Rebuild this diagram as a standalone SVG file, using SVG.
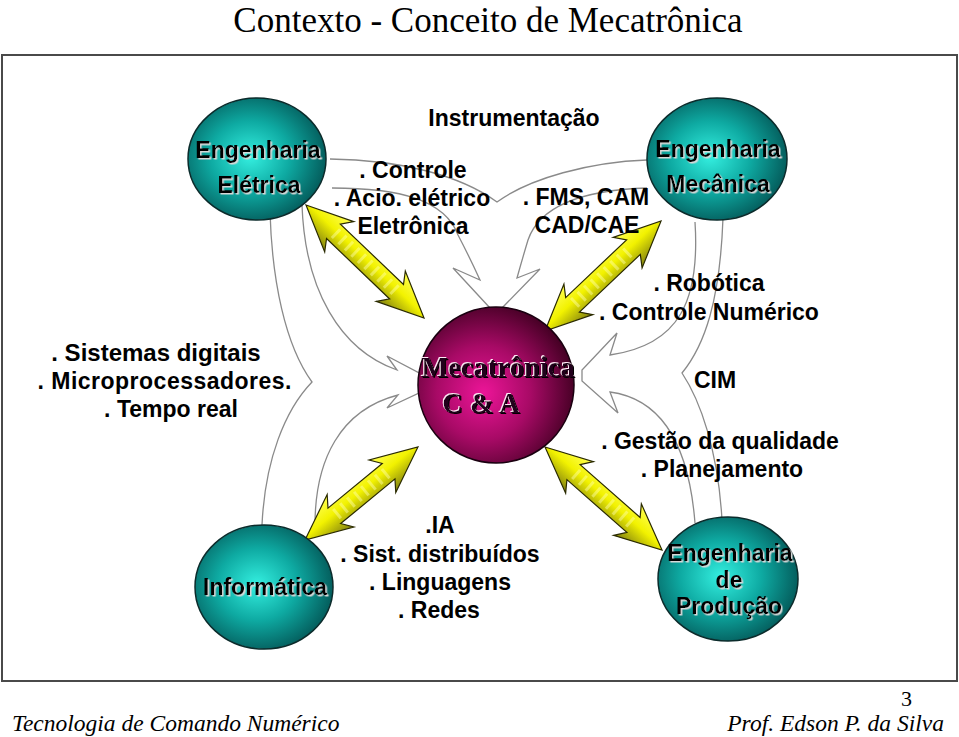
<svg xmlns="http://www.w3.org/2000/svg" width="959" height="737" viewBox="0 0 959 737">
<defs>
<style>
.lbl{font-family:"Liberation Sans",Arial,sans-serif;font-weight:bold;font-size:23px;fill:#000;text-anchor:middle}
.ntx{font-family:"Liberation Sans",Arial,sans-serif;font-weight:bold;font-size:23px;fill:#000;text-anchor:middle;filter:url(#emb)}
.mtx{font-family:"Liberation Serif","Times New Roman",serif;font-weight:bold;font-size:28.5px;fill:#22061a;text-anchor:middle;filter:url(#emb2)}
.gl{fill:none;stroke:#8a8a8a;stroke-width:1.3}
.ya{fill:url(#yel);stroke:#2a2a00;stroke-width:1.2;stroke-linejoin:miter}
.ys{fill:none;stroke:#ffffb0;stroke-width:12;stroke-dasharray:3 6;opacity:0.45}
.tc{fill:url(#teal);stroke:#0b2b2b;stroke-width:1.5}
.foot{font-family:"Liberation Serif","Times New Roman",serif;font-style:italic;font-size:23.5px;fill:#000}
</style>
<radialGradient id="teal" cx="45%" cy="48%" r="58%" fx="45%" fy="48%">
<stop offset="0" stop-color="#34efe0"/>
<stop offset="0.5" stop-color="#0eaaa2"/>
<stop offset="1" stop-color="#035656"/>
</radialGradient>
<radialGradient id="mag" cx="42%" cy="55%" r="60%" fx="42%" fy="55%">
<stop offset="0" stop-color="#ec1598"/>
<stop offset="0.5" stop-color="#a80a66"/>
<stop offset="1" stop-color="#420022"/>
</radialGradient>
<linearGradient id="yel" x1="0" y1="0" x2="0" y2="1">
<stop offset="0" stop-color="#ffff50"/>
<stop offset="0.45" stop-color="#f2f200"/>
<stop offset="1" stop-color="#808010"/>
</linearGradient>
<filter id="emb" x="-10%" y="-20%" width="125%" height="150%">
<feDropShadow dx="1.5" dy="1.5" stdDeviation="0.4" flood-color="#d8d8d8"/>
</filter>
<filter id="emb2" x="-10%" y="-20%" width="125%" height="150%">
<feOffset in="SourceAlpha" dx="-1.3" dy="-1.1" result="o1"/>
<feFlood flood-color="#ffe8f4" result="f"/>
<feComposite in="f" in2="o1" operator="in" result="w"/>
<feOffset in="SourceAlpha" dx="1.2" dy="1.2" result="o2"/>
<feFlood flood-color="#000000" result="f2"/>
<feComposite in="f2" in2="o2" operator="in" result="b"/>
<feMerge><feMergeNode in="b"/><feMergeNode in="w"/><feMergeNode in="SourceGraphic"/></feMerge>
</filter>
</defs>
<rect width="959" height="737" fill="#ffffff"/>
<text x="488" y="31.5" style="font-family:'Liberation Serif','Times New Roman',serif;font-size:35px;text-anchor:middle;fill:#000">Contexto - Conceito de Mecatrônica</text>
<rect x="2" y="55" width="955" height="626" fill="none" stroke="#4a4a4a" stroke-width="2"/>

<g id="connectors">
<path class="gl" d="M330,159 C400,160 460,175 497,202 C530,178 590,162 647,160"/>
<path class="gl" d="M332,188 C400,188 445,200 458,235 Q470,258 480,280 L453,268 L490,308 L502,308 L540,269 L517,278 Q522,260 528,240 C540,205 585,190 647,188"/>
<path class="gl" d="M270,212 C272,280 285,345 312,382 C285,410 265,460 262,525"/>
<path class="gl" d="M302,205 C305,290 340,350 397,370 L387,356 L421,374 L421,392 L387,408 L398,395 C340,410 315,460 315,525"/>
<path class="gl" d="M723,218 C720,300 705,345 682,373 C700,400 718,450 722,520"/>
<path class="gl" d="M695,222 C700,300 680,345 610,355 L617,333 L582,370 L582,381 L618,413 L610,392 C670,400 690,460 695,523"/>

<g transform="translate(306,205) rotate(43.76)">
<path class="ya" d="M0,0 L46,-21 L38,-10 L125.4,-10 L117.4,-21 L163.4,0 L117.4,21 L125.4,10 L38,10 L46,21 Z"/>
<line class="ys" x1="40" y1="0" x2="124" y2="0"/>
</g>
<g transform="translate(545,331) rotate(-43.48)">
<path class="ya" d="M0,0 L46,-21 L38,-10 L121.9,-10 L113.9,-21 L159.9,0 L113.9,21 L121.9,10 L38,10 L46,21 Z"/>
<line class="ys" x1="40" y1="0" x2="120" y2="0"/>
</g>
<g transform="translate(305,540) rotate(-39.46)">
<path class="ya" d="M0,0 L46,-21 L38,-10 L108.3,-10 L100.3,-21 L146.3,0 L100.3,21 L108.3,10 L38,10 L46,21 Z"/>
<line class="ys" x1="40" y1="0" x2="106" y2="0"/>
</g>
<g transform="translate(545,447) rotate(41.36)">
<path class="ya" d="M0,0 L46,-21 L38,-10 L117.9,-10 L109.9,-21 L155.9,0 L109.9,21 L117.9,10 L38,10 L46,21 Z"/>
<line class="ys" x1="40" y1="0" x2="116" y2="0"/>
</g>
</g>

<g id="eng-eletrica">
<ellipse class="tc" cx="257" cy="159" rx="69" ry="61"/>
<text class="ntx" x="258" y="158">Engenharia</text>
<text class="ntx" x="259" y="193">Elétrica</text>
</g>
<g id="eng-mecanica">
<ellipse class="tc" cx="717" cy="159" rx="70" ry="61"/>
<text class="ntx" x="718" y="157">Engenharia</text>
<text class="ntx" x="718" y="192">Mecânica</text>
</g>
<g id="informatica">
<ellipse class="tc" cx="264" cy="587" rx="69" ry="62"/>
<text class="ntx" x="265" y="595">Informática</text>
</g>
<g id="eng-producao">
<ellipse class="tc" cx="728" cy="579" rx="70" ry="62"/>
<text class="ntx" x="730" y="561">Engenharia</text>
<text class="ntx" x="729" y="588">de</text>
<text class="ntx" x="729" y="614">Produção</text>
</g>
<g id="mecatronica">
<circle cx="496" cy="385" r="78" fill="url(#mag)" stroke="#1a0010" stroke-width="1.5"/>
<text class="mtx" x="498" y="377">Mecatrônica</text>
<text class="mtx" x="481" y="413">C &amp; A</text>
</g>

<g id="labels">
<text class="lbl" x="514" y="126">Instrumentação</text>
<text class="lbl" x="413" y="178">. Controle</text>
<text class="lbl" x="412" y="206">. Acio. elétrico</text>
<text class="lbl" x="413" y="234">Eletrônica</text>
<text class="lbl" x="586" y="205">. FMS, CAM</text>
<text class="lbl" x="587" y="233">CAD/CAE</text>
<text class="lbl" x="709" y="291">. Robótica</text>
<text class="lbl" x="709" y="320">. Controle Numérico</text>
<text class="lbl" x="715" y="388">CIM</text>
<text class="lbl" x="720" y="449">. Gestão da qualidade</text>
<text class="lbl" x="722" y="477">. Planejamento</text>
<text class="lbl" x="156" y="361" style="font-size:24px">. Sistemas digitais</text>
<text class="lbl" x="164.5" y="389" textLength="254" lengthAdjust="spacing">. Microprocessadores.</text>
<text class="lbl" x="171" y="417">. Tempo real</text>
<text class="lbl" x="440" y="533">.IA</text>
<text class="lbl" x="440" y="562">. Sist. distribuídos</text>
<text class="lbl" x="440" y="590">. Linguagens</text>
<text class="lbl" x="439" y="618">. Redes</text>
</g>

<text x="12" y="731" class="foot">Tecnologia de Comando Numérico</text>
<text x="944" y="731" class="foot" text-anchor="end">Prof. Edson P. da Silva</text>
<text x="912" y="706" style="font-family:'Liberation Serif','Times New Roman',serif;font-size:22px;text-anchor:end;fill:#000">3</text>
</svg>
